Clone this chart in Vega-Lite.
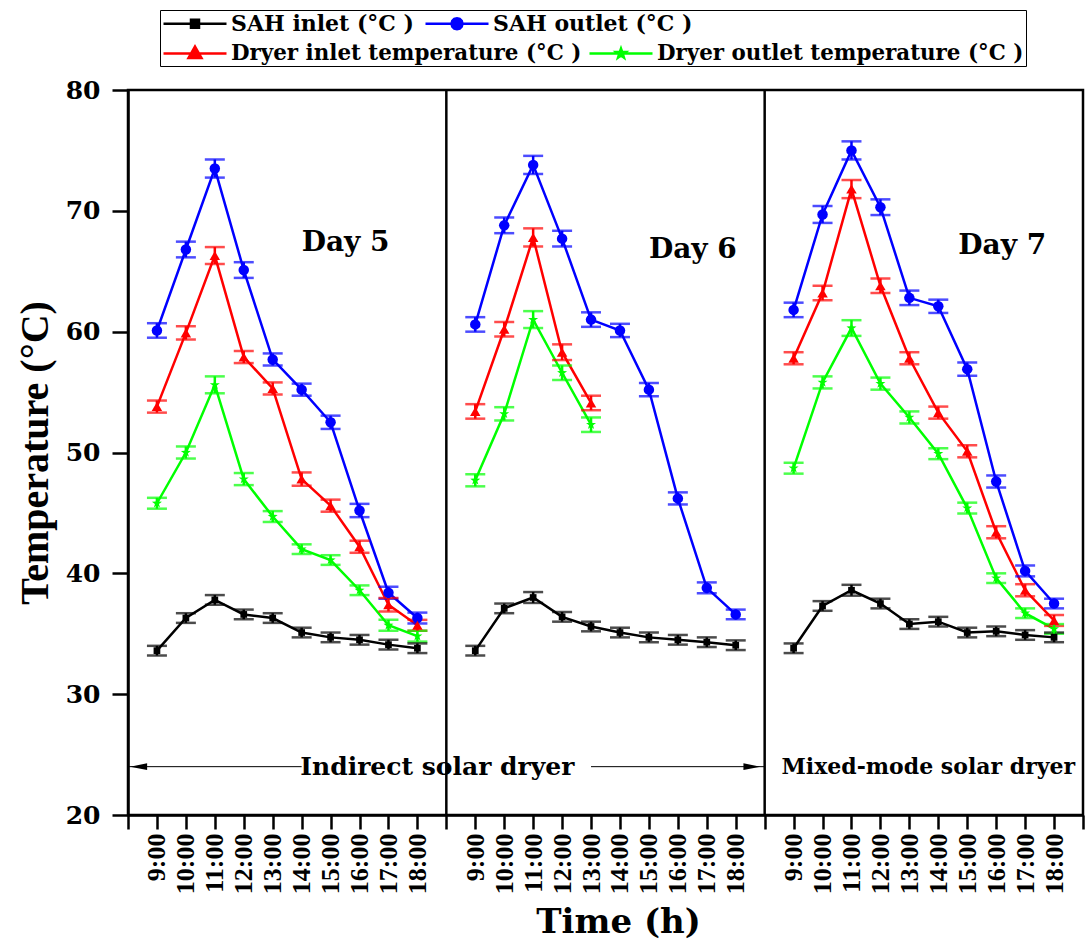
{
  "$schema": "https://vega.github.io/schema/vega-lite/v6.json",
  "width": 955,
  "height": 725,
  "autosize": {"type": "none"},
  "padding": {"left": 128, "top": 90, "right": 2, "bottom": 134},
  "background": "white",
  "config": {
    "font": "DejaVu Serif",
    "view": {"stroke": "black", "strokeWidth": 2.5},
    "axis": {"domainColor": "black", "domainWidth": 2.5, "tickColor": "black", "tickWidth": 2.5, "labelColor": "black", "titleColor": "black", "grid": false, "labelFontWeight": "bold", "titleFontWeight": "bold"}
  },
  "layer": [
    {
      "data": {"values": [
        {"d":"Day 5","t":"D5 9:00","s":"SAH inlet (°C )","v":33.6,"e":0.4},
        {"d":"Day 5","t":"D5 10:00","s":"SAH inlet (°C )","v":36.3,"e":0.4},
        {"d":"Day 5","t":"D5 11:00","s":"SAH inlet (°C )","v":37.8,"e":0.4},
        {"d":"Day 5","t":"D5 12:00","s":"SAH inlet (°C )","v":36.6,"e":0.4},
        {"d":"Day 5","t":"D5 13:00","s":"SAH inlet (°C )","v":36.3,"e":0.4},
        {"d":"Day 5","t":"D5 14:00","s":"SAH inlet (°C )","v":35.1,"e":0.4},
        {"d":"Day 5","t":"D5 15:00","s":"SAH inlet (°C )","v":34.7,"e":0.4},
        {"d":"Day 5","t":"D5 16:00","s":"SAH inlet (°C )","v":34.5,"e":0.4},
        {"d":"Day 5","t":"D5 17:00","s":"SAH inlet (°C )","v":34.1,"e":0.4},
        {"d":"Day 5","t":"D5 18:00","s":"SAH inlet (°C )","v":33.8,"e":0.4},
        {"d":"Day 5","t":"D5 9:00","s":"SAH outlet (°C )","v":60.1,"e":0.6},
        {"d":"Day 5","t":"D5 10:00","s":"SAH outlet (°C )","v":66.8,"e":0.65},
        {"d":"Day 5","t":"D5 11:00","s":"SAH outlet (°C )","v":73.5,"e":0.75},
        {"d":"Day 5","t":"D5 12:00","s":"SAH outlet (°C )","v":65.1,"e":0.65},
        {"d":"Day 5","t":"D5 13:00","s":"SAH outlet (°C )","v":57.7,"e":0.5},
        {"d":"Day 5","t":"D5 14:00","s":"SAH outlet (°C )","v":55.2,"e":0.5},
        {"d":"Day 5","t":"D5 15:00","s":"SAH outlet (°C )","v":52.5,"e":0.55},
        {"d":"Day 5","t":"D5 16:00","s":"SAH outlet (°C )","v":45.2,"e":0.55},
        {"d":"Day 5","t":"D5 17:00","s":"SAH outlet (°C )","v":38.4,"e":0.5},
        {"d":"Day 5","t":"D5 18:00","s":"SAH outlet (°C )","v":36.3,"e":0.45},
        {"d":"Day 5","t":"D5 9:00","s":"Dryer inlet temperature (°C )","v":53.8,"e":0.5},
        {"d":"Day 5","t":"D5 10:00","s":"Dryer inlet temperature (°C )","v":59.9,"e":0.55},
        {"d":"Day 5","t":"D5 11:00","s":"Dryer inlet temperature (°C )","v":66.3,"e":0.7},
        {"d":"Day 5","t":"D5 12:00","s":"Dryer inlet temperature (°C )","v":57.9,"e":0.5},
        {"d":"Day 5","t":"D5 13:00","s":"Dryer inlet temperature (°C )","v":55.3,"e":0.5},
        {"d":"Day 5","t":"D5 14:00","s":"Dryer inlet temperature (°C )","v":47.8,"e":0.55},
        {"d":"Day 5","t":"D5 15:00","s":"Dryer inlet temperature (°C )","v":45.6,"e":0.5},
        {"d":"Day 5","t":"D5 16:00","s":"Dryer inlet temperature (°C )","v":42.2,"e":0.5},
        {"d":"Day 5","t":"D5 17:00","s":"Dryer inlet temperature (°C )","v":37.4,"e":0.55},
        {"d":"Day 5","t":"D5 18:00","s":"Dryer inlet temperature (°C )","v":35.7,"e":0.45},
        {"d":"Day 5","t":"D5 9:00","s":"Dryer outlet temperature (°C )","v":45.8,"e":0.45},
        {"d":"Day 5","t":"D5 10:00","s":"Dryer outlet temperature (°C )","v":50.0,"e":0.5},
        {"d":"Day 5","t":"D5 11:00","s":"Dryer outlet temperature (°C )","v":55.6,"e":0.7},
        {"d":"Day 5","t":"D5 12:00","s":"Dryer outlet temperature (°C )","v":47.8,"e":0.5},
        {"d":"Day 5","t":"D5 13:00","s":"Dryer outlet temperature (°C )","v":44.7,"e":0.45},
        {"d":"Day 5","t":"D5 14:00","s":"Dryer outlet temperature (°C )","v":42.0,"e":0.4},
        {"d":"Day 5","t":"D5 15:00","s":"Dryer outlet temperature (°C )","v":41.1,"e":0.4},
        {"d":"Day 5","t":"D5 16:00","s":"Dryer outlet temperature (°C )","v":38.6,"e":0.4},
        {"d":"Day 5","t":"D5 17:00","s":"Dryer outlet temperature (°C )","v":35.7,"e":0.45},
        {"d":"Day 5","t":"D5 18:00","s":"Dryer outlet temperature (°C )","v":34.8,"e":0.45},
        {"d":"Day 6","t":"D6 9:00","s":"SAH inlet (°C )","v":33.6,"e":0.4},
        {"d":"Day 6","t":"D6 10:00","s":"SAH inlet (°C )","v":37.1,"e":0.4},
        {"d":"Day 6","t":"D6 11:00","s":"SAH inlet (°C )","v":38.0,"e":0.45},
        {"d":"Day 6","t":"D6 12:00","s":"SAH inlet (°C )","v":36.4,"e":0.4},
        {"d":"Day 6","t":"D6 13:00","s":"SAH inlet (°C )","v":35.6,"e":0.4},
        {"d":"Day 6","t":"D6 14:00","s":"SAH inlet (°C )","v":35.1,"e":0.4},
        {"d":"Day 6","t":"D6 15:00","s":"SAH inlet (°C )","v":34.7,"e":0.4},
        {"d":"Day 6","t":"D6 16:00","s":"SAH inlet (°C )","v":34.5,"e":0.4},
        {"d":"Day 6","t":"D6 17:00","s":"SAH inlet (°C )","v":34.3,"e":0.4},
        {"d":"Day 6","t":"D6 18:00","s":"SAH inlet (°C )","v":34.05,"e":0.4},
        {"d":"Day 6","t":"D6 9:00","s":"SAH outlet (°C )","v":60.6,"e":0.6},
        {"d":"Day 6","t":"D6 10:00","s":"SAH outlet (°C )","v":68.8,"e":0.65},
        {"d":"Day 6","t":"D6 11:00","s":"SAH outlet (°C )","v":73.8,"e":0.75},
        {"d":"Day 6","t":"D6 12:00","s":"SAH outlet (°C )","v":67.7,"e":0.65},
        {"d":"Day 6","t":"D6 13:00","s":"SAH outlet (°C )","v":61.0,"e":0.6},
        {"d":"Day 6","t":"D6 14:00","s":"SAH outlet (°C )","v":60.1,"e":0.55},
        {"d":"Day 6","t":"D6 15:00","s":"SAH outlet (°C )","v":55.2,"e":0.55},
        {"d":"Day 6","t":"D6 16:00","s":"SAH outlet (°C )","v":46.2,"e":0.5},
        {"d":"Day 6","t":"D6 17:00","s":"SAH outlet (°C )","v":38.8,"e":0.45},
        {"d":"Day 6","t":"D6 18:00","s":"SAH outlet (°C )","v":36.6,"e":0.4},
        {"d":"Day 6","t":"D6 9:00","s":"Dryer inlet temperature (°C )","v":53.4,"e":0.6},
        {"d":"Day 6","t":"D6 10:00","s":"Dryer inlet temperature (°C )","v":60.2,"e":0.6},
        {"d":"Day 6","t":"D6 11:00","s":"Dryer inlet temperature (°C )","v":67.8,"e":0.75},
        {"d":"Day 6","t":"D6 12:00","s":"Dryer inlet temperature (°C )","v":58.3,"e":0.65},
        {"d":"Day 6","t":"D6 13:00","s":"Dryer inlet temperature (°C )","v":54.1,"e":0.6},
        {"d":"Day 6","t":"D6 9:00","s":"Dryer outlet temperature (°C )","v":47.7,"e":0.5},
        {"d":"Day 6","t":"D6 10:00","s":"Dryer outlet temperature (°C )","v":53.2,"e":0.55},
        {"d":"Day 6","t":"D6 11:00","s":"Dryer outlet temperature (°C )","v":61.0,"e":0.7},
        {"d":"Day 6","t":"D6 12:00","s":"Dryer outlet temperature (°C )","v":56.6,"e":0.6},
        {"d":"Day 6","t":"D6 13:00","s":"Dryer outlet temperature (°C )","v":52.3,"e":0.6},
        {"d":"Day 7","t":"D7 9:00","s":"SAH inlet (°C )","v":33.8,"e":0.4},
        {"d":"Day 7","t":"D7 10:00","s":"SAH inlet (°C )","v":37.3,"e":0.4},
        {"d":"Day 7","t":"D7 11:00","s":"SAH inlet (°C )","v":38.6,"e":0.45},
        {"d":"Day 7","t":"D7 12:00","s":"SAH inlet (°C )","v":37.5,"e":0.4},
        {"d":"Day 7","t":"D7 13:00","s":"SAH inlet (°C )","v":35.8,"e":0.4},
        {"d":"Day 7","t":"D7 14:00","s":"SAH inlet (°C )","v":36.0,"e":0.4},
        {"d":"Day 7","t":"D7 15:00","s":"SAH inlet (°C )","v":35.1,"e":0.4},
        {"d":"Day 7","t":"D7 16:00","s":"SAH inlet (°C )","v":35.2,"e":0.4},
        {"d":"Day 7","t":"D7 17:00","s":"SAH inlet (°C )","v":34.9,"e":0.4},
        {"d":"Day 7","t":"D7 18:00","s":"SAH inlet (°C )","v":34.7,"e":0.4},
        {"d":"Day 7","t":"D7 9:00","s":"SAH outlet (°C )","v":61.8,"e":0.6},
        {"d":"Day 7","t":"D7 10:00","s":"SAH outlet (°C )","v":69.7,"e":0.7},
        {"d":"Day 7","t":"D7 11:00","s":"SAH outlet (°C )","v":75.0,"e":0.75},
        {"d":"Day 7","t":"D7 12:00","s":"SAH outlet (°C )","v":70.3,"e":0.65},
        {"d":"Day 7","t":"D7 13:00","s":"SAH outlet (°C )","v":62.8,"e":0.6},
        {"d":"Day 7","t":"D7 14:00","s":"SAH outlet (°C )","v":62.1,"e":0.55},
        {"d":"Day 7","t":"D7 15:00","s":"SAH outlet (°C )","v":56.9,"e":0.55},
        {"d":"Day 7","t":"D7 16:00","s":"SAH outlet (°C )","v":47.6,"e":0.5},
        {"d":"Day 7","t":"D7 17:00","s":"SAH outlet (°C )","v":40.2,"e":0.45},
        {"d":"Day 7","t":"D7 18:00","s":"SAH outlet (°C )","v":37.5,"e":0.4},
        {"d":"Day 7","t":"D7 9:00","s":"Dryer inlet temperature (°C )","v":57.8,"e":0.5},
        {"d":"Day 7","t":"D7 10:00","s":"Dryer inlet temperature (°C )","v":63.2,"e":0.6},
        {"d":"Day 7","t":"D7 11:00","s":"Dryer inlet temperature (°C )","v":71.8,"e":0.75},
        {"d":"Day 7","t":"D7 12:00","s":"Dryer inlet temperature (°C )","v":63.8,"e":0.6},
        {"d":"Day 7","t":"D7 13:00","s":"Dryer inlet temperature (°C )","v":57.8,"e":0.5},
        {"d":"Day 7","t":"D7 14:00","s":"Dryer inlet temperature (°C )","v":53.3,"e":0.5},
        {"d":"Day 7","t":"D7 15:00","s":"Dryer inlet temperature (°C )","v":50.1,"e":0.5},
        {"d":"Day 7","t":"D7 16:00","s":"Dryer inlet temperature (°C )","v":43.4,"e":0.5},
        {"d":"Day 7","t":"D7 17:00","s":"Dryer inlet temperature (°C )","v":38.6,"e":0.5},
        {"d":"Day 7","t":"D7 18:00","s":"Dryer inlet temperature (°C )","v":36.1,"e":0.45},
        {"d":"Day 7","t":"D7 9:00","s":"Dryer outlet temperature (°C )","v":48.7,"e":0.45},
        {"d":"Day 7","t":"D7 10:00","s":"Dryer outlet temperature (°C )","v":55.8,"e":0.5},
        {"d":"Day 7","t":"D7 11:00","s":"Dryer outlet temperature (°C )","v":60.3,"e":0.65},
        {"d":"Day 7","t":"D7 12:00","s":"Dryer outlet temperature (°C )","v":55.7,"e":0.5},
        {"d":"Day 7","t":"D7 13:00","s":"Dryer outlet temperature (°C )","v":52.9,"e":0.5},
        {"d":"Day 7","t":"D7 14:00","s":"Dryer outlet temperature (°C )","v":49.9,"e":0.45},
        {"d":"Day 7","t":"D7 15:00","s":"Dryer outlet temperature (°C )","v":45.4,"e":0.45},
        {"d":"Day 7","t":"D7 16:00","s":"Dryer outlet temperature (°C )","v":39.6,"e":0.4},
        {"d":"Day 7","t":"D7 17:00","s":"Dryer outlet temperature (°C )","v":36.7,"e":0.4},
        {"d":"Day 7","t":"D7 18:00","s":"Dryer outlet temperature (°C )","v":35.4,"e":0.4}
      ]},
      "encoding": {
        "x": {
          "field": "t", "type": "nominal",
          "scale": {"type": "point", "padding": 0, "domain": ["L","D5 9:00","D5 10:00","D5 11:00","D5 12:00","D5 13:00","D5 14:00","D5 15:00","D5 16:00","D5 17:00","D5 18:00","G1","D6 9:00","D6 10:00","D6 11:00","D6 12:00","D6 13:00","D6 14:00","D6 15:00","D6 16:00","D6 17:00","D6 18:00","G2","D7 9:00","D7 10:00","D7 11:00","D7 12:00","D7 13:00","D7 14:00","D7 15:00","D7 16:00","D7 17:00","D7 18:00","R"]},
          "axis": {
            "title": "Time (h)", "titleFont": "DejaVu Serif", "titleFontSize": 34, "titlePadding": 12, "titleX": 490,
            "labelExpr": "indexof(datum.value, ' ') > 0 ? split(datum.value, ' ')[1] : ''",
            "labelAngle": 270, "labelFont": "Liberation Serif", "labelFontSize": 26, "labelPadding": 4, "labelOverlap": false,
            "tickSize": 14
          }
        },
        "y": {
          "field": "v", "type": "quantitative",
          "scale": {"domain": [20, 80], "nice": false, "zero": false},
          "axis": {
            "title": "Temperature (°C)", "titleFont": "Liberation Serif", "titleFontSize": 40, "titlePadding": 10,
            "values": [20, 30, 40, 50, 60, 70, 80], "labelFont": "DejaVu Serif", "labelFontSize": 25, "labelPadding": 12, "tickSize": 16
          }
        }
      },
      "layer": [
        {"mark": {"type": "line", "strokeWidth": 2.5},
         "encoding": {
           "detail": {"field": "d"},
           "stroke": {
             "field": "s", "type": "nominal",
             "scale": {"domain": ["SAH inlet (°C )","SAH outlet (°C )","Dryer inlet temperature (°C )","Dryer outlet temperature (°C )"], "range": ["#000000","#0000ff","#ff0000","#00ff00"]},
             "legend": {
               "title": null, "orient": "none", "legendX": 32, "legendY": -80, "columns": 2, "direction": "horizontal",
               "values": ["SAH inlet (°C )","SAH outlet (°C )"],
               "columnPadding": 6, "padding": 2,
               "labelFont": "DejaVu Serif", "labelFontWeight": "bold", "labelFontSize": 22, "labelColor": "black", "labelLimit": 0, "labelOffset": 46,
               "symbolSize": 400, "symbolStrokeWidth": 2.5,
               "encode": {"symbols": {"update": {
                 "shape": {"signal": "indexof(datum.value,'SAH inlet')>=0 ? 'M-1,0H5.3M1.75,-0.4H2.55V0.4H1.75Z' : 'M-1,0H5.3M2.7,0L2.626,0.275L2.425,0.476L2.15,0.55L1.875,0.476L1.674,0.275L1.6,0L1.674,-0.275L1.875,-0.476L2.15,-0.55L2.425,-0.476L2.626,-0.275Z'"},
                 "size": {"value": 400},
                 "fill": {"scale": "stroke", "field": "value"},
                 "stroke": {"scale": "stroke", "field": "value"},
                 "strokeWidth": {"value": 2.5},
                 "opacity": {"value": 1}
               }}}
             }
           }
         }},
        {"mark": {"type": "errorbar", "ticks": {"size": 20, "thickness": 2.5}, "rule": {"strokeWidth": 2.5}},
         "encoding": {"yError": {"field": "e"}, "color": {
           "field": "s", "type": "nominal",
           "scale": {"domain": ["SAH inlet (°C )","Dryer inlet temperature (°C )","SAH outlet (°C )","Dryer outlet temperature (°C )"], "range": ["#000000","#ff0000","#0000ff","#00ff00"]},
           "legend": {
             "title": " ", "titleFontSize": 22, "titlePadding": 8, "orient": "none", "legendX": 32, "legendY": -80, "columns": 2, "direction": "horizontal",
             "values": ["Dryer inlet temperature (°C )","Dryer outlet temperature (°C )"],
             "columnPadding": 2, "padding": 2, "strokeColor": "black",
             "labelFont": "DejaVu Serif", "labelFontWeight": "bold", "labelFontSize": 21.4, "labelColor": "black", "labelLimit": 0, "labelOffset": 46,
             "symbolSize": 400, "symbolStrokeWidth": 2.5,
             "encode": {"symbols": {"update": {
               "shape": {"signal": "indexof(datum.value,'Dryer inlet')>=0 ? 'M-1,0H5.3M2.15,-0.7L2.8,0.45H1.5Z' : 'M-1,0H5.3M2.15,-0.5L2.268,-0.162L2.626,-0.155L2.34,0.062L2.444,0.405L2.15,0.2L1.856,0.405L1.96,0.062L1.674,-0.155L2.032,-0.162Z'"},
               "size": {"value": 400},
               "fill": {"scale": "color", "field": "value"},
               "stroke": {"scale": "color", "field": "value"},
               "strokeWidth": {"value": 2.5},
               "opacity": {"value": 1}
             }}}
           }
         }}},
        {
          "mark": {"type": "point", "filled": true, "opacity": 1, "size": 110},
          "encoding": {
            "shape": {"field": "s", "type": "nominal", "legend": null, "scale": {"domain": ["SAH outlet (°C )","SAH inlet (°C )","Dryer outlet temperature (°C )","Dryer inlet temperature (°C )"], "range": ["circle","M-0.64,-0.64H0.64V0.64H-0.64Z","M0,-1L0.235,-0.324L0.951,-0.309L0.38,0.124L0.588,0.809L0,0.4L-0.588,0.809L-0.38,0.124L-0.951,-0.309L-0.235,-0.324Z","triangle-up"]}},
            "fill": {
              "field": "s", "type": "nominal", "legend": null,
              "scale": {"domain": ["Dryer inlet temperature (°C )","Dryer outlet temperature (°C )","SAH inlet (°C )","SAH outlet (°C )"], "range": ["#ff0000","#00ff00","#000000","#0000ff"]}
            }
          }
        }
      ]
    },
    {
      "data": {"values": [{"t": "G1"}, {"t": "G2"}]},
      "mark": {"type": "rule", "color": "black", "strokeWidth": 2.5},
      "encoding": {"x": {"field": "t", "type": "nominal"}}
    },
    {
      "data": {"values": [{"t": "L", "t2": "D5 14:00", "v": 24}]},
      "mark": {"type": "rule", "color": "black", "strokeWidth": 1},
      "encoding": {"x": {"field": "t", "type": "nominal"}, "x2": {"field": "t2"}, "x2Offset": {"value": -12}, "y": {"field": "v", "type": "quantitative"}}
    },
    {
      "data": {"values": [{"t": "D6 13:00", "t2": "G2", "v": 24}]},
      "mark": {"type": "rule", "color": "black", "strokeWidth": 1},
      "encoding": {"x": {"field": "t", "type": "nominal"}, "x2": {"field": "t2"}, "x2Offset": {"value": -4}, "y": {"field": "v", "type": "quantitative"}}
    },
    {
      "data": {"values": [{"t": "L", "v": 24}]},
      "mark": {"type": "point", "filled": true, "color": "black", "opacity": 1, "size": 289, "shape": "M0.25,0L2.25,-0.4L2.25,0.4Z"},
      "encoding": {"x": {"field": "t", "type": "nominal"}, "y": {"field": "v", "type": "quantitative"}}
    },
    {
      "data": {"values": [{"t": "G2", "v": 24}]},
      "mark": {"type": "point", "filled": true, "color": "black", "opacity": 1, "size": 289, "shape": "M-0.5,0L-2.5,-0.4L-2.5,0.4Z"},
      "encoding": {"x": {"field": "t", "type": "nominal"}, "y": {"field": "v", "type": "quantitative"}}
    },
    {
      "data": {"values": [{"lab": "Day 5", "t": "D5 14:00", "v": 66.7}, {"lab": "Day 6", "t": "D6 15:00", "v": 66.1}]},
      "mark": {"type": "text", "font": "DejaVu Serif", "fontWeight": "bold", "fontSize": 28, "align": "left", "baseline": "alphabetic", "color": "black"},
      "encoding": {"x": {"field": "t", "type": "nominal"}, "y": {"field": "v", "type": "quantitative"}, "text": {"field": "lab"}}
    },
    {
      "data": {"values": [{"lab": "Day 7", "t": "D7 15:00", "v": 66.4}]},
      "mark": {"type": "text", "font": "DejaVu Serif", "fontWeight": "bold", "fontSize": 28, "align": "left", "baseline": "alphabetic", "color": "black", "dx": -9},
      "encoding": {"x": {"field": "t", "type": "nominal"}, "y": {"field": "v", "type": "quantitative"}, "text": {"field": "lab"}}
    },
    {
      "data": {"values": [{"lab": "Indirect solar dryer", "t": "G1", "v": 24}]},
      "mark": {"type": "text", "font": "DejaVu Serif", "fontWeight": "bold", "fontSize": 25, "align": "center", "baseline": "middle", "color": "black", "dx": -9},
      "encoding": {"x": {"field": "t", "type": "nominal"}, "y": {"field": "v", "type": "quantitative"}, "text": {"field": "lab"}}
    },
    {
      "data": {"values": [{"lab": "Mixed-mode solar dryer", "t": "D7 14:00", "v": 24}]},
      "mark": {"type": "text", "font": "DejaVu Serif", "fontWeight": "bold", "fontSize": 22, "align": "center", "baseline": "middle", "color": "black", "dx": -10},
      "encoding": {"x": {"field": "t", "type": "nominal"}, "y": {"field": "v", "type": "quantitative"}, "text": {"field": "lab"}}
    }
  ]
}
